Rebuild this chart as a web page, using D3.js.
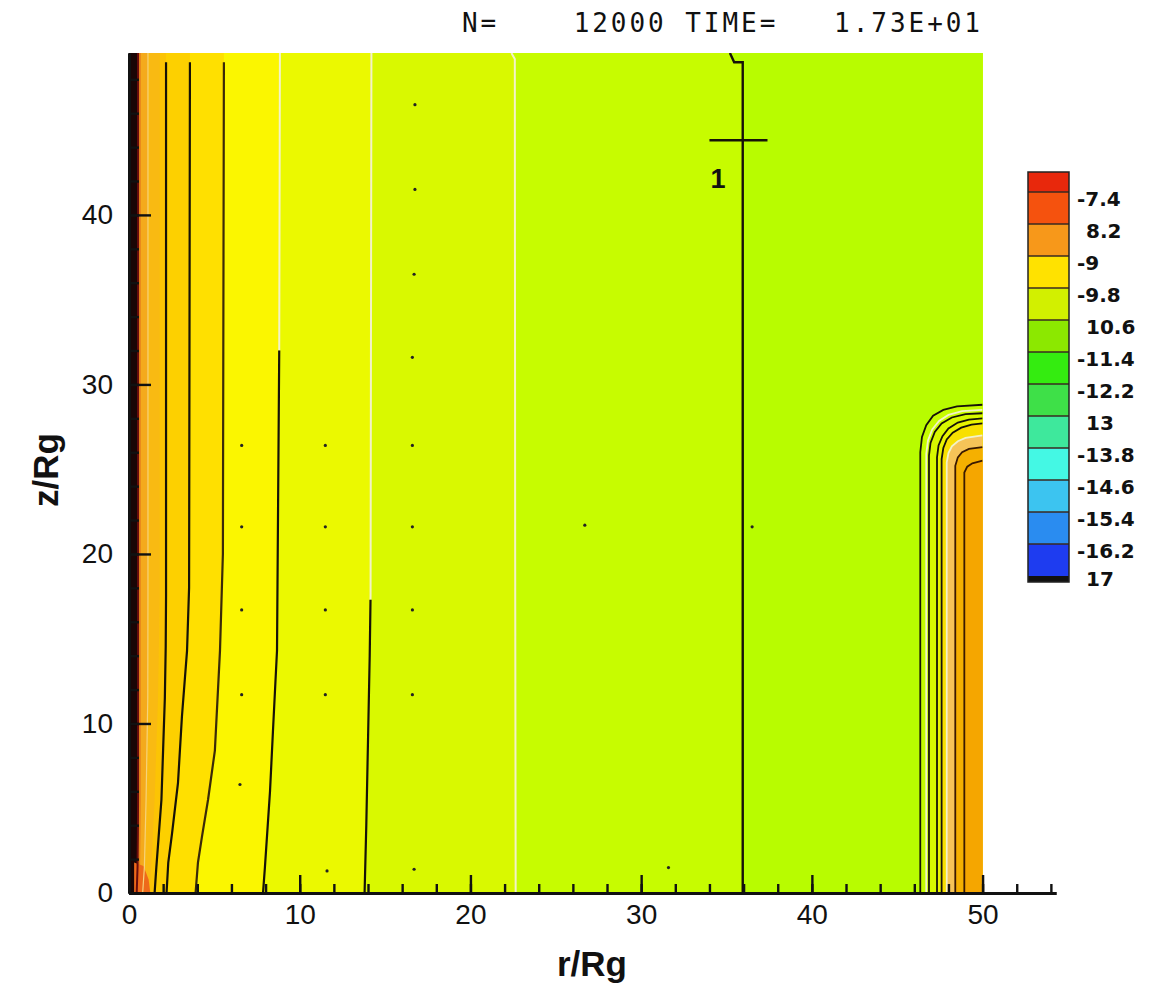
<!DOCTYPE html>
<html>
<head>
<meta charset="utf-8">
<script src="https://cdn.jsdelivr.net/npm/d3@7"></script>
<style>
  html, body { margin: 0; padding: 0; background: #ffffff; }
  svg { display: block; }
</style>
</head>
<body>
<svg id="chart" width="1154" height="988"></svg>
<script>
// ---------------- DATA ----------------
const titleText = "N=    12000 TIME=   1.73E+01";
const xTicksMajor = [0, 10, 20, 30, 40, 50];
const yTicksMajor = [0, 10, 20, 30, 40];
const xLabel = "r/Rg";
const yLabel = "z/Rg";

// contour boundaries of the flood (r, z), left -> right
const bound1  = [[0.45,0],[0.50,1.5],[0.52,3.5],[0.53,5.5],[0.53,49.55]];
const bound2  = [[0.60,0],[0.65,1.5],[0.68,3.5],[0.70,5.5],[0.70,49.55]];
const bound3  = [[0.80,0],[0.90,1.5],[0.95,3.5],[1.00,5.5],[1.05,8.5],[1.10,11.5],[1.11,17.5],[1.11,49.55]];
const bound4  = [[1.20,0],[1.30,1.5],[1.40,3.5],[1.50,5.5],[1.60,8.5],[1.70,11.5],[1.75,14.5],[1.80,17.5],[1.80,49.55]];
const bound5  = [[1.50,0],[1.60,1.5],[1.75,3.5],[1.90,5.5],[2.00,8.5],[2.10,11.5],[2.15,14.5],[2.17,17.5],[2.17,49.55]];
const bound6  = [[2.20,0],[2.30,1.8],[2.52,3.5],[2.87,6.5],[3.10,10.4],[3.40,14.3],[3.52,18.0],[3.57,49.55]];
const bound7  = [[3.90,0],[4.04,1.8],[4.27,3.3],[4.63,5.5],[5.03,8.4],[5.33,14.3],[5.50,20.0],[5.56,49.55]];
const bound8  = [[7.85,0],[7.96,1.5],[8.26,6.0],[8.43,9.5],[8.67,14.3],[8.80,32.0],[8.84,49.55]];
const bound9  = [[13.80,0],[13.90,4.0],[14.00,9.0],[14.10,14.0],[14.15,17.5],[14.20,49.55]];
const bound10 = [[22.65,0],[22.62,20.0],[22.60,49.2],[22.40,49.55]];
const bound11 = [[35.95,0],[35.95,49.0],[35.45,49.0],[35.20,49.55]];
const fieldBounds = [bound1, bound2, bound3, bound4, bound5, bound6, bound7, bound8, bound9, bound10, bound11];
const fieldColors = ["#1a0505", "#e8881c", "#f4aa1c", "#f9ba12", "#fcc404", "#fdd000", "#ffe000", "#fbf600", "#ebf900", "#d9f900", "#c7fc00", "#b8fc00"];

// torus (disk) contours, right side
const torus1 = [[46.35,0],[46.35,26.0],[46.45,26.9],[46.70,27.6],[47.10,28.15],[47.70,28.5],[48.50,28.7],[50,28.8]];
const torus2 = [[46.70,0],[46.70,25.9],[46.80,26.7],[47.05,27.35],[47.45,27.85],[48.00,28.2],[48.80,28.42],[50,28.5]];
const torus3 = [[46.86,0],[46.86,25.8],[46.95,26.55],[47.20,27.2],[47.60,27.7],[48.20,28.05],[49.00,28.25],[50,28.3]];
const torus4 = [[47.33,0],[47.33,25.7],[47.42,26.4],[47.65,26.95],[48.00,27.4],[48.55,27.75],[49.20,27.93],[50,28.0]];
const torus5 = [[47.60,0],[47.60,25.6],[47.70,26.25],[47.90,26.75],[48.25,27.15],[48.75,27.45],[49.35,27.63],[50,27.7]];
const torus6 = [[47.90,0],[47.90,25.4],[48.00,25.95],[48.20,26.35],[48.55,26.65],[49.00,26.85],[50,27.0]];
const torus7 = [[48.40,0],[48.40,25.2],[48.55,25.7],[48.80,26.0],[49.20,26.2],[50,26.3]];
const torus8 = [[48.93,0],[48.93,24.8],[49.10,25.15],[49.40,25.35],[50,25.5]];
const torusBounds = [torus1, torus2, torus3, torus4, torus5, torus6, torus7, torus8];
const torusColors = ["#c6fc00", "#c9fb00", "#d8f800", "#e9f400", "#f8e000", "#f6c458", "#f5b000", "#f5a600"];

// small corner patch at the origin
const cornerPatch = [[0.30,0],[1.25,0],[1.15,0.8],[0.85,1.6],[0.30,1.8]];

// isolated small contour dots (r, z)
const dotR = [16.75,16.75,16.7,16.6,16.6,16.6,16.6,16.6,6.6,6.6,6.6,6.6,6.5,11.5,11.5,11.5,11.5,26.7,36.5,16.7,11.6,31.6];
const dotZ = [46.5,41.5,36.5,31.6,26.4,21.6,16.7,11.7,26.4,21.6,16.7,11.7,6.4,26.4,21.6,16.7,11.7,21.7,21.6,1.4,1.3,1.5];

// marker "1"
const markerLabel = "1";
const markerR = [34.0, 37.4];
const markerZ = 44.4;
const markerLabelPos = [34.5, 41.6];

// legend
const legendLevels = [-7.4,-8.2,-9.0,-9.8,-10.6,-11.4,-12.2,-13.0,-13.8,-14.6,-15.4,-16.2,-17.0];
const legendLabels = ["-7.4","8.2","-9","-9.8","10.6","-11.4","-12.2","13","-13.8","-14.6","-15.4","-16.2","17"];
const legendTop = -6.9;
const legendColors = ["#e8280c","#f5520e","#f7981a","#ffe200","#d2f000","#8ce800","#34ec10","#3ee048","#3ee89c","#44f8e4","#3cc4f0","#2a8cf0","#1e3cf0"];

// ---------------- DRAW ----------------
const svg = d3.select("#chart");
const rScale = d3.scaleLinear().domain([0, 54.3]).range([129, 1056]);
const zScale = d3.scaleLinear().domain([0, 49.55]).range([893, 53]);
const rMax = 50, zMax = 49.55;

svg.append("rect").attr("width", 1154).attr("height", 988).attr("fill", "#fff");

// title (spaces preserved)
svg.append("text")
  .attr("x", 462).attr("y", 32)
  .attr("xml:space", "preserve")
  .style("white-space", "pre")
  .attr("font-family", "DejaVu Sans Mono, Liberation Mono, monospace")
  .attr("font-size", 26)
  .attr("textLength", 518).attr("lengthAdjust", "spacing")
  .attr("fill", "#111")
  .text(titleText);

const defs = svg.append("defs");
defs.append("clipPath").attr("id", "plotclip")
  .append("rect")
  .attr("x", rScale(0)).attr("y", zScale(zMax))
  .attr("width", rScale(rMax) - rScale(0)).attr("height", zScale(0) - zScale(zMax));

const g = svg.append("g").attr("clip-path", "url(#plotclip)");
const line = d3.line().x(d => rScale(d[0])).y(d => zScale(d[1]));

// base fill (leftmost band)
g.append("path")
  .attr("d", line([[0,0],[0,zMax],[rMax,zMax],[rMax,0]]) + "Z")
  .attr("fill", fieldColors[0]);

// bands: each fills from its boundary to the right edge
fieldBounds.forEach((b, i) => {
  const poly = [[b[0][0], -1]].concat(b, [[b[b.length-1][0], zMax + 1], [rMax + 1, zMax + 1], [rMax + 1, -1]]);
  g.append("path").attr("d", line(poly) + "Z").attr("fill", fieldColors[i + 1]);
});

// torus fills
torusBounds.forEach((b, i) => {
  const poly = [[b[0][0], -1]].concat(b, [[rMax + 1, b[b.length-1][1]], [rMax + 1, -1]]);
  g.append("path").attr("d", line(poly) + "Z").attr("fill", torusColors[i]);
});

// origin patch
g.append("path").attr("d", line(cornerPatch) + "Z").attr("fill", "#ee6a1a");

// contour line clips
function clipBelow(id, zTop) {
  defs.append("clipPath").attr("id", id).append("rect")
    .attr("x", 0).attr("y", zScale(zTop)).attr("width", 1154).attr("height", zScale(0) - zScale(zTop) + 5);
}
function clipAbove(id, zBot) {
  defs.append("clipPath").attr("id", id).append("rect")
    .attr("x", 0).attr("y", 0).attr("width", 1154).attr("height", zScale(zBot));
}
clipBelow("cl49", 49.0);
clipBelow("cl32", 32.0);
clipAbove("ca32", 32.0);
clipBelow("cl17", 17.3);
clipAbove("ca17", 17.3);

const pale = "#f2f2c8";
const dark = "#161208";
function drawLine(pts, color, w, clip) {
  const p = g.append("path").attr("d", line(pts)).attr("fill", "none")
    .attr("stroke", color).attr("stroke-width", w);
  if (clip) p.attr("clip-path", "url(#" + clip + ")");
}
drawLine(bound1, "#6a0c0c", 2, null);
drawLine(bound3, "#f6d27a", 1.2, null);
drawLine(bound5, dark, 2.2, "cl49");
drawLine(bound6, dark, 2.2, "cl49");
drawLine(bound7, "#3a2a08", 2.2, "cl49");
drawLine(bound8, pale, 2, "ca32");
drawLine(bound8, dark, 2.2, "cl32");
drawLine(bound9, pale, 2, "ca17");
drawLine(bound9, dark, 2.2, "cl17");
drawLine(bound10, pale, 2, null);
drawLine(bound11, dark, 2.4, null);

// torus lines
const torusLineColors = [dark, pale, dark, dark, dark, pale, "#3a1a00", "#3a1a00"];
torusBounds.forEach((b, i) => drawLine(b, torusLineColors[i], 1.8, null));

// small dots
g.selectAll("circle.dot").data(dotR.map((r, i) => [r, dotZ[i]])).join("circle")
  .attr("class", "dot")
  .attr("cx", d => rScale(d[0])).attr("cy", d => zScale(d[1]))
  .attr("r", 1.6).attr("fill", "#222");

// marker "1"
svg.append("path")
  .attr("d", line([[markerR[0], markerZ], [markerR[1], markerZ]]))
  .attr("stroke", dark).attr("stroke-width", 2.4).attr("fill", "none");
svg.append("text")
  .attr("x", rScale(markerLabelPos[0])).attr("y", zScale(markerLabelPos[1]))
  .attr("text-anchor", "middle")
  .attr("font-family", "Liberation Sans, Arial, sans-serif")
  .attr("font-weight", "bold").attr("font-size", 27)
  .attr("fill", "#111")
  .text(markerLabel);

// axes
const fontAxis = "Liberation Sans, Arial, sans-serif";
const xAxisMinor = d3.axisBottom(rScale).tickValues(d3.range(0, 54.1, 2)).tickSize(-9).tickSizeOuter(0).tickFormat("");
const xAxis = d3.axisBottom(rScale).tickValues(xTicksMajor).tickSize(-18).tickSizeOuter(0).tickPadding(11).tickFormat(d3.format("d"));
const gxm = svg.append("g").attr("transform", `translate(0,${zScale(0)})`).call(xAxisMinor);
const gx = svg.append("g").attr("transform", `translate(0,${zScale(0)})`).call(xAxis);

const yAxisMinor = d3.axisLeft(zScale).tickValues(d3.range(0, 49.1, 2)).tickSize(-10).tickSizeOuter(0).tickFormat("");
const yAxis = d3.axisLeft(zScale).tickValues(yTicksMajor).tickSize(-22).tickSizeOuter(0).tickPadding(16).tickFormat(d3.format("d"));
const gym = svg.append("g").attr("transform", `translate(${rScale(0)},0)`).call(yAxisMinor);
const gy = svg.append("g").attr("transform", `translate(${rScale(0)},0)`).call(yAxis);

[gxm, gx, gym, gy].forEach(a => {
  a.select(".domain").attr("stroke", "#111").attr("stroke-width", 3);
  a.selectAll(".tick line").attr("stroke", "#111").attr("stroke-width", 2.4);
  a.selectAll(".tick text").attr("font-family", fontAxis).attr("font-size", 28).attr("fill", "#111");
});

// axis titles
svg.append("text")
  .attr("x", 592).attr("y", 976).attr("text-anchor", "middle")
  .attr("font-family", fontAxis).attr("font-weight", "bold").attr("font-size", 35)
  .attr("fill", "#111").text(xLabel);
svg.append("text")
  .attr("transform", "translate(58,470) rotate(-90)").attr("text-anchor", "middle")
  .attr("font-family", fontAxis).attr("font-weight", "bold").attr("font-size", 35)
  .attr("fill", "#111").text(yLabel);

// legend
const ls = d3.scaleLinear().domain([-7.4, -17.0]).range([192, 576]);
const lx0 = 1028, lw = 41;
const lg = svg.append("g");
const edges = [legendTop].concat(legendLevels);
legendColors.forEach((c, i) => {
  lg.append("rect")
    .attr("x", lx0).attr("y", ls(edges[i]))
    .attr("width", lw).attr("height", ls(edges[i + 1]) - ls(edges[i]))
    .attr("fill", c);
});
lg.append("rect").attr("x", lx0).attr("y", ls(-17.0)).attr("width", lw).attr("height", 6).attr("fill", "#111");
legendLevels.slice(0, -1).forEach(v => {
  lg.append("line").attr("x1", lx0).attr("x2", lx0 + lw)
    .attr("y1", ls(v)).attr("y2", ls(v))
    .attr("stroke", "#3a2a20").attr("stroke-width", 1.6);
});
lg.append("rect").attr("x", lx0).attr("y", ls(legendTop))
  .attr("width", lw).attr("height", ls(-17.0) + 6 - ls(legendTop))
  .attr("fill", "none").attr("stroke", "#222").attr("stroke-width", 1.5);
legendLabels.forEach((t, i) => {
  const hasMinus = t.startsWith("-");
  lg.append("text")
    .attr("x", hasMinus ? 1077 : 1086)
    .attr("y", Math.min(ls(legendLevels[i]) + 7, 579))
    .attr("dy", "0.36em")
    .attr("font-family", "DejaVu Sans, sans-serif")
    .attr("font-size", 20)
    .attr("font-weight", "bold")
    .attr("fill", "#111")
    .text(t);
});
</script>
</body>
</html>
